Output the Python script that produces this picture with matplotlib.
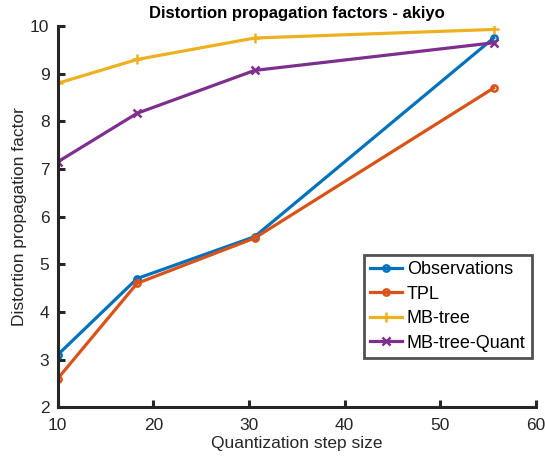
import matplotlib
matplotlib.use("Agg")
import matplotlib.pyplot as plt

plt.rcParams['font.family'] = ['Liberation Sans', 'DejaVu Sans']

step_size = [10, 18.3, 30.6, 55.6]
observations = [3.1, 4.7, 5.58, 9.75]
tpl = [2.6, 4.6, 5.55, 8.7]
mb_tree = [8.8, 9.3, 9.75, 9.93]
mb_tree_quant = [7.15, 8.17, 9.07, 9.65]

fig = plt.figure(figsize=(5.45, 4.58), dpi=100)
ax = fig.add_axes([0.106, 0.111, 0.877, 0.832])

lw = 2.3
ax.plot(step_size, observations, color='#0072BD', lw=lw, marker='o', ms=4.5, mfc='none', mew=1.8, label='Observations')
ax.plot(step_size, tpl, color='#D95319', lw=lw, marker='o', ms=4.5, mfc='none', mew=1.8, label='TPL')
ax.plot(step_size, mb_tree, color='#EDB120', lw=lw, marker='+', ms=6.5, mew=1.8, label='MB-tree')
ax.plot(step_size, mb_tree_quant, color='#7E2F8E', lw=lw, marker='x', ms=5.5, mew=1.8, label='MB-tree-Quant')

ax.set_xlim(10, 60)
ax.set_ylim(2, 10)
ax.set_xticks([10, 20, 30, 40, 50, 60])
ax.set_yticks(range(2, 11))
ax.spines['top'].set_visible(False)
ax.spines['right'].set_visible(False)
for s in ['left', 'bottom']:
    ax.spines[s].set_linewidth(2.2)
    ax.spines[s].set_color('#262626')
ax.tick_params(direction='in', length=5, width=2.2, labelsize=12.5, colors='#262626', labelcolor='#262626')
ax.tick_params(axis='x', pad=8)
ax.tick_params(axis='y', pad=6)
ax.set_xlabel('Quantization step size', fontsize=12.5, color='#262626', labelpad=2)
ax.set_ylabel('Distortion propagation factor', fontsize=12.5, color='#262626', labelpad=2)
ax.set_title('Distortion propagation factors - akiyo', fontsize=12, fontweight='bold', pad=6)

leg = ax.legend(loc='lower right', bbox_to_anchor=(0.992, 0.129), borderaxespad=0, fontsize=13, frameon=True,
                fancybox=False, edgecolor='#262626', handlelength=1.8, handletextpad=0.25, borderpad=0.35,
                labelspacing=0.42)
leg.get_frame().set_linewidth(2.0)

fig.savefig('out.png', dpi=100)
